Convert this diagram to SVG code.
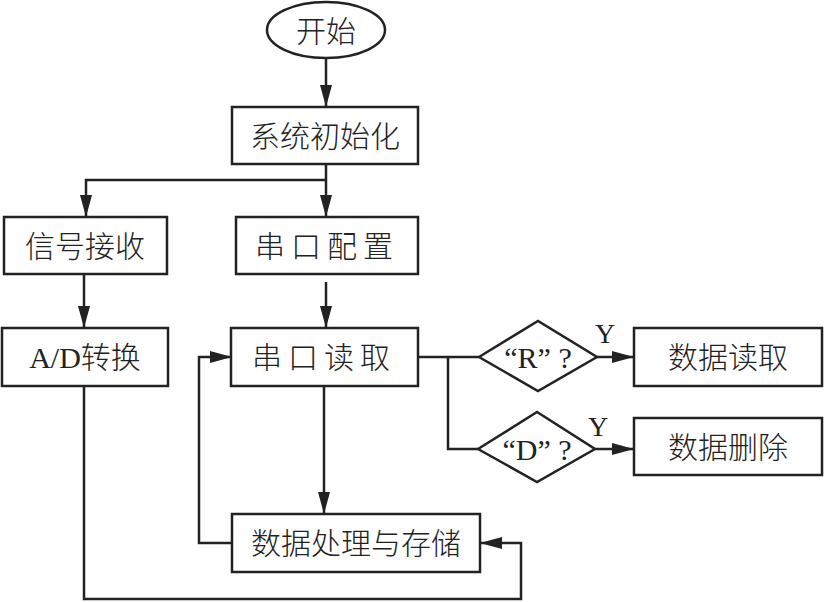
<svg xmlns="http://www.w3.org/2000/svg" width="824" height="602" viewBox="0 0 824 602">
<style>
.s{fill:#fff;stroke:#222;stroke-width:2.5}
.t{font-family:"Liberation Serif","Noto Sans CJK SC",serif;font-size:30px;fill:#222;text-anchor:middle;dominant-baseline:central;font-weight:300}
.l{fill:none;stroke:#222;stroke-width:2.5}
</style>
<defs><marker id="a" markerWidth="10" markerHeight="8" refX="10" refY="4" orient="auto" markerUnits="userSpaceOnUse" viewBox="0 0 10 8"><path d="M0,0L10,4L0,8z" fill="#222"/></marker>
<marker id="b" markerWidth="22" markerHeight="12" refX="22" refY="6" orient="auto" markerUnits="userSpaceOnUse"><path d="M0,0L22,6L0,12z" fill="#222"/></marker></defs>
<rect width="824" height="602" fill="#fff"/>
<g id="connectors">
<path class="l" d="M326,58V107" marker-end="url(#b)"/>
<path class="l" d="M326,164V217" marker-end="url(#b)"/>
<path class="l" d="M326,180H86V217" marker-end="url(#b)"/>
<path class="l" d="M84,274V328" marker-end="url(#b)"/>
<path class="l" d="M326,282V328" marker-end="url(#b)"/>
<path class="l" d="M324,386V514" marker-end="url(#b)"/>
<path class="l" d="M232,543H199V357H232" marker-end="url(#b)"/>
<path class="l" d="M84,386V599H521V543H480" marker-end="url(#b)"/>
<path class="l" d="M418,357H479M448,357V449H478"/>
<path class="l" d="M597,357H634" marker-end="url(#b)"/>
<path class="l" d="M595,449H634" marker-end="url(#b)"/>
</g>
<g id="start"><ellipse class="s" cx="326" cy="30" rx="59" ry="28"/><text class="t" x="326" y="31">开始</text></g>
<g id="init"><rect class="s" x="232" y="107" width="186" height="57"/><text class="t" x="325" y="136">系统初始化</text></g>
<g id="recv"><rect class="s" x="4" y="217" width="163" height="57"/><text class="t" x="85" y="246">信号接收</text></g>
<g id="cfg"><rect class="s" x="236" y="217" width="182" height="57"/><text class="t" x="327" y="246" letter-spacing="6">串口配置</text></g>
<g id="ad"><rect class="s" x="2" y="328" width="166" height="58"/><text class="t" x="85" y="357">A/D转换</text></g>
<g id="read"><rect class="s" x="231" y="328" width="187" height="58"/><text class="t" x="324" y="357" letter-spacing="6">串口读取</text></g>
<g id="proc"><rect class="s" x="232" y="514" width="248" height="58"/><text class="t" x="356" y="543">数据处理与存储</text></g>
<g id="qr"><path class="s" d="M479,357L538,321L597,357L538,391Z"/><text class="t" x="538" y="357">“R” ?</text></g>
<g id="qd"><path class="s" d="M478,449L537,412L595,449L537,482Z"/><text class="t" x="537" y="449">“D” ?</text></g>
<g id="dr"><rect class="s" x="634" y="328" width="188" height="58"/><text class="t" x="728" y="357">数据读取</text></g>
<g id="dd"><rect class="s" x="634" y="418" width="188" height="57"/><text class="t" x="728" y="447">数据删除</text></g>
<text class="t" x="605" y="333" style="font-size:28px">Y</text>
<text class="t" x="598" y="426" style="font-size:28px">Y</text>
</svg>
